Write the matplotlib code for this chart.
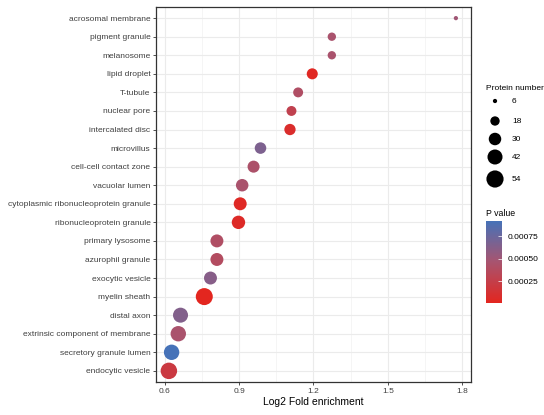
import numpy as np
import matplotlib
matplotlib.use("Agg")
import matplotlib.pyplot as plt
from matplotlib.colors import LinearSegmentedColormap, Normalize
from matplotlib.ticker import MultipleLocator

plt.rcParams["font.family"] = ["Liberation Sans", "DejaVu Sans"]

# GO terms, top to bottom as in the figure
terms = ["acrosomal membrane", "pigment granule", "melanosome", "lipid droplet",
         "T-tubule", "nuclear pore", "intercalated disc", "microvillus",
         "cell-cell contact zone", "vacuolar lumen",
         "cytoplasmic ribonucleoprotein granule", "ribonucleoprotein granule",
         "primary lysosome", "azurophil granule", "exocytic vesicle",
         "myelin sheath", "distal axon", "extrinsic component of membrane",
         "secretory granule lumen", "endocytic vesicle"]
fold = [1.775, 1.274, 1.274, 1.195, 1.138, 1.111, 1.105, 0.986, 0.958, 0.912,
        0.904, 0.897, 0.810, 0.810, 0.784, 0.759, 0.663, 0.654, 0.627, 0.616]
count = [6, 15, 15, 24, 20, 20, 25, 26, 28, 30,
         32, 34, 32, 32, 32, 53, 42, 44, 44, 50]
pval = [0.00050, 0.00045, 0.00045, 0.00003, 0.00040, 0.00028, 0.00008, 0.00066,
        0.00043, 0.00045, 0.00004, 0.00005, 0.00040, 0.00038, 0.00062, 0.000007,
        0.00064, 0.00045, 0.00092, 0.00020]

size_breaks = [6, 18, 30, 42, 54]
p_ticks = [0.00025, 0.00050, 0.00075]


def marker_area(n):
    # area linear in count, like ggplot's scale_size
    n = np.asarray(n, dtype=float)
    d2 = 12.25 + (n - 5) / 51 * 294  # diameter^2 in pixels
    return d2 * (72 / 100) ** 2


cmap = LinearSegmentedColormap.from_list(
    "pv", [(0, "#E3261F"), (0.5, "#A8546F"), (1, "#4672B8")])
norm = Normalize(vmin=0.000007, vmax=0.00092)

fig = plt.figure(figsize=(5.44, 4.15), dpi=100)
ax = fig.add_axes([156 / 544, 1 - 382 / 415, 315 / 544, 375 / 415])

ypos = np.arange(len(terms))[::-1]
sc = ax.scatter(fold, ypos, s=marker_area(count), c=pval, cmap=cmap, norm=norm,
                linewidths=0, zorder=3)

ax.set_xlim(0.564, 1.836)
ax.set_ylim(-0.6, len(terms) - 0.4)
ax.xaxis.set_minor_locator(MultipleLocator(0.15))
ax.set_xticks([0.6, 0.9, 1.2, 1.5, 1.8])
ax.set_xticklabels(["0.6", "0.9", "1.2", "1.5", "1.8"])
ax.set_yticks(ypos)
ax.set_yticklabels(terms)
ax.grid(which="major", color="#EBEBEB", linewidth=0.8, zorder=0)
ax.grid(which="minor", axis="x", color="#F2F2F2", linewidth=0.5, zorder=0)
ax.set_axisbelow(True)
for sp in ax.spines.values():
    sp.set_color("#333333")
    sp.set_linewidth(0.9)
ax.tick_params(axis="both", which="major", length=2.5, width=0.6, color="#333333",
               labelsize=6.0, labelcolor="#404040", pad=1.5)
ax.tick_params(axis="x", which="minor", length=0)
ax.set_xlabel("Log2 Fold enrichment", fontsize=7.5, labelpad=2)

# size legend
lax = fig.add_axes([478 / 544, 1 - 192 / 415, 66 / 544, 112 / 415])
lax.set_xlim(478, 544)
lax.set_ylim(192, 80)
lax.axis("off")
lax.text(486, 88, "Protein number", fontsize=6.0, va="center", ha="left")
leg_y = [101, 121, 139, 157, 179]
lax.scatter([495] * len(size_breaks), leg_y, s=marker_area(size_breaks),
            color="black", linewidths=0, clip_on=False)
for yy, b in zip(leg_y, size_breaks):
    lax.text(512, yy, str(b), fontsize=6.0, va="center", ha="left")

# colour bar
fig.text(486 / 544, 1 - 213 / 415, "P value", fontsize=6.3, va="center", ha="left")
cax = fig.add_axes([486 / 544, 1 - 303 / 415, 16 / 544, 82 / 415])
cb = fig.colorbar(sc, cax=cax)
cb.outline.set_visible(False)
cb.set_ticks(p_ticks)
cb.set_ticklabels(["%.5f" % t for t in p_ticks])
cax.tick_params(length=3, width=0.5, color="white", direction="in", labelsize=6.0, pad=4)

fig.savefig("out.png", dpi=100)
